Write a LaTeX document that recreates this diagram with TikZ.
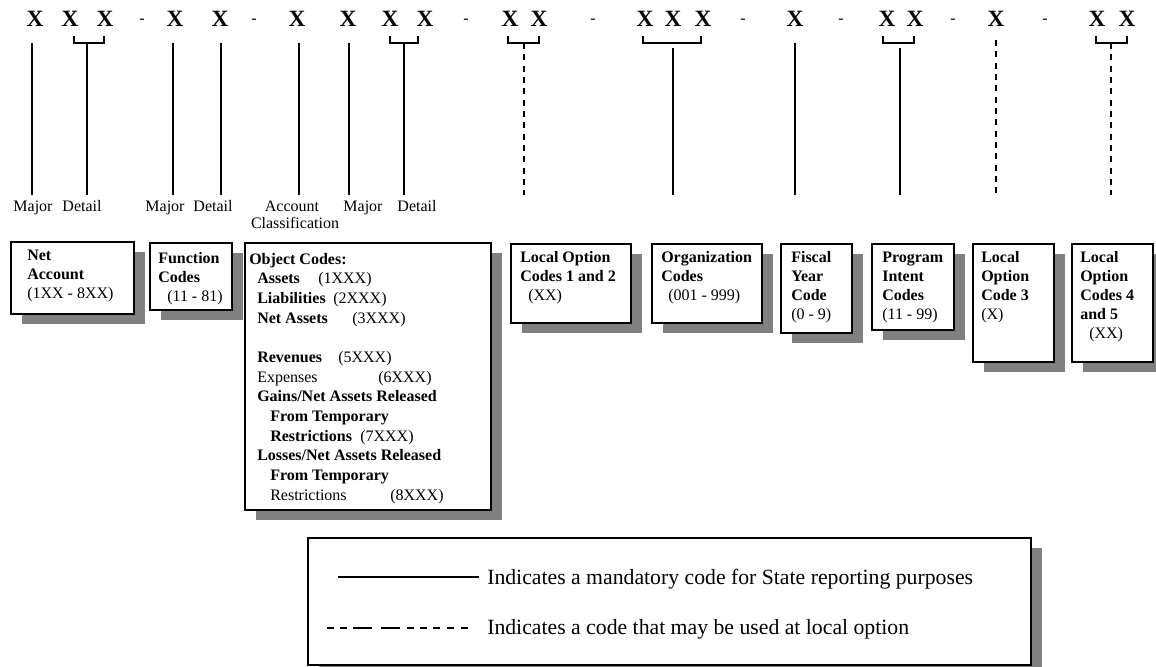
\documentclass[tikz,border=0pt]{standalone}
\usepackage{fontspec}
\setmainfont{Liberation Serif}
\usetikzlibrary{shadows}

\newcommand{\objline}[3]{\makebox[#1][l]{#2}#3}

\tikzset{
  codebox/.style={draw, fill=white, line width=1.2pt, anchor=north west, inner sep=0pt,
    drop shadow={shadow xshift=8.25pt, shadow yshift=-7.5pt, opacity=1, fill=black!50}},
  boxsize/.style 2 args={minimum width=#1*0.75pt, minimum height=#2*0.75pt},
  % placed at the baseline of the last line
  boxtext/.style={anchor=base west, align=left, inner sep=0pt, font=\fontsize{12}{14.25}\selectfont},
  codeletter/.style={anchor=base, inner sep=0pt, font=\fontsize{17.5}{20}\selectfont\bfseries},
  codesep/.style={anchor=base, inner sep=0pt, font=\fontsize{12}{14}\selectfont},
  partlabel/.style={anchor=base, inner sep=0pt, font=\fontsize{12}{13}\selectfont},
  legendtext/.style={anchor=base west, inner sep=0pt, font=\fontsize{16.3}{18}\selectfont},
  mandatory/.style={line width=0.9pt},
  optional/.style={line width=0.9pt, dash pattern=on 4.5pt off 4pt},
  bracket/.style={line width=0.9pt},
}

\begin{document}
\begin{tikzpicture}[x=0.75pt, y=-0.75pt]
    \useasboundingbox (0,0) rectangle (1156,667);

    % The code digits along the top
    \foreach \n/\x in {a/35, b/70, c/105, d/175, e/220, f/297, g/348, h/390, i/425, j/510,
                       k/539, l/645, m/673, n/703, o/795, p/887, q/915, r/996, s/1097, t/1127}
        \node[codeletter] (x\n) at (\x,27) {X};
    \foreach \x in {142,254,466,593,743,841,953,1045}
        \node[codesep] (sep\x) at (\x,24) {-};

    % Brackets under grouped digits
    \foreach \a/\b in {74/104, 390/418, 508/539, 643/701, 883/914, 1096/1127}
        \draw[bracket] (\a,36) -- (\a,43) -- (\b,43) -- (\b,36);

    % Mandatory stems
    \foreach \n/\x/\t in {netmaj/32/43, netdet/87/43, funmaj/173/43, fundet/221/43, objcls/299/43,
                          objmaj/349/43, objdet/404/43, org/673/48, fiscal/795/43, prog/900/48} {
        \coordinate (\n-top) at (\x,\t);
        \coordinate (\n-end) at (\x,195);
        \draw[mandatory] (\n-top) -- (\n-end);
    }
    % Local option stems
    \foreach \n/\x/\t in {locab/524/43, locc/996/40, locde/1111/43} {
        \coordinate (\n-top) at (\x,\t);
        \coordinate (\n-end) at (\x,195);
        \draw[optional] (\n-top) -- (\n-end);
    }

    % Labels under the stems
    \node[partlabel] (major1) at (33,211) {Major};
    \node[partlabel] (detail1) at (82,211) {Detail};
    \node[partlabel] (major2) at (165,211) {Major};
    \node[partlabel] (detail2) at (213,211) {Detail};
    \node[partlabel] (acct) at (292,211) {Account};
    \node[partlabel] (classif) at (295,228) {Classification};
    \node[partlabel] (major3) at (363,211) {Major};
    \node[partlabel] (detail3) at (417,211) {Detail};

    % Boxes
    \node[codebox, boxsize={123}{72}] (net) at (10,241) {};
    \node[codebox, boxsize={82}{67}] (func) at (149,242) {};
    \node[codebox, boxsize={246}{267}] (obj) at (244,242) {};
    \node[codebox, boxsize={120}{79}] (loc12) at (510,243) {};
    \node[codebox, boxsize={110}{79}] (org) at (651,243) {};
    \node[codebox, boxsize={71}{89}] (fiscal) at (780,243) {};
    \node[codebox, boxsize={82}{86}] (prog) at (871,243) {};
    \node[codebox, boxsize={81}{118}] (loc3) at (972,243) {};
    \node[codebox, boxsize={81}{118}] (loc45) at (1071,243) {};

    % Box texts
    \node[boxtext] (nettext) at (27,298) {\textbf{Net}\\\textbf{Account}\\(1XX - 8XX)};
    \node[boxtext] (functext) at (158,301) {\textbf{Function}\\\textbf{Codes}\\\hspace*{6.75pt}(11 - 81)};
    \node[boxtext, font=\fontsize{12}{14.75}\selectfont] (objtext) at (249,500) {%
        \textbf{Object Codes:}\\
        \objline{51.75pt}{\hspace*{6pt}\textbf{Assets}}{(1XXX)}\\
        \objline{63pt}{\hspace*{6pt}\textbf{Liabilities}}{(2XXX)}\\
        \objline{77.25pt}{\hspace*{6pt}\textbf{Net Assets}}{(3XXX)}\\[14.75pt]
        \objline{66.75pt}{\hspace*{6pt}\textbf{Revenues}}{(5XXX)}\\
        \objline{96.75pt}{\hspace*{6pt}Expenses}{(6XXX)}\\
        \hspace*{6pt}\textbf{Gains/Net Assets Released}\\
        \hspace*{15.75pt}\textbf{From Temporary}\\
        \objline{83.25pt}{\hspace*{15.75pt}\textbf{Restrictions}}{(7XXX)}\\
        \hspace*{6pt}\textbf{Losses/Net Assets Released}\\
        \hspace*{15.75pt}\textbf{From Temporary}\\
        \objline{105.75pt}{\hspace*{15.75pt}Restrictions}{(8XXX)}};
    \node[boxtext] (loc12text) at (520,300) {\textbf{Local Option}\\\textbf{Codes 1 and 2}\\\hspace*{6pt}(XX)};
    \node[boxtext] (orgtext) at (661,300) {\textbf{Organization}\\\textbf{Codes}\\\hspace*{5.25pt}(001 - 999)};
    \node[boxtext] (fiscaltext) at (791,319) {\textbf{Fiscal}\\\textbf{Year}\\\textbf{Code}\\(0 - 9)};
    \node[boxtext] (progtext) at (882,319) {\textbf{Program}\\\textbf{Intent}\\\textbf{Codes}\\(11 - 99)};
    \node[boxtext] (loc3text) at (981,319) {\textbf{Local}\\\textbf{Option}\\\textbf{Code 3}\\(X)};
    \node[boxtext] (loc45text) at (1080,338) {\textbf{Local}\\\textbf{Option}\\\textbf{Codes 4}\\\textbf{and 5}\\\hspace*{6.75pt}(XX)};

    % Legend
    \node[codebox, boxsize={723}{127}] (legend) at (307,537) {};
    \coordinate (solid-a) at (338,577);
    \coordinate (solid-b) at (479,577);
    \draw[line width=1pt] (solid-a) -- (solid-b);
    \node[legendtext] (mandtext) at (487,584) {Indicates a mandatory code for State reporting purposes};
    \coordinate (dash-a) at (327,628);
    \coordinate (dash-b) at (470,628);
    \draw[line width=1pt, dash pattern=on 5.25pt off 4.5pt on 5.25pt off 4.5pt on 14.25pt off 6.75pt
          on 14.25pt off 5.25pt on 5.25pt off 4.5pt on 5.25pt off 4.5pt on 5.25pt off 5.25pt
          on 5.25pt off 5.25pt on 5.25pt off 20pt] (dash-a) -- (dash-b);
    \node[legendtext] (opttext) at (487,634) {Indicates a code that may be used at local option};
\end{tikzpicture}
\end{document}
